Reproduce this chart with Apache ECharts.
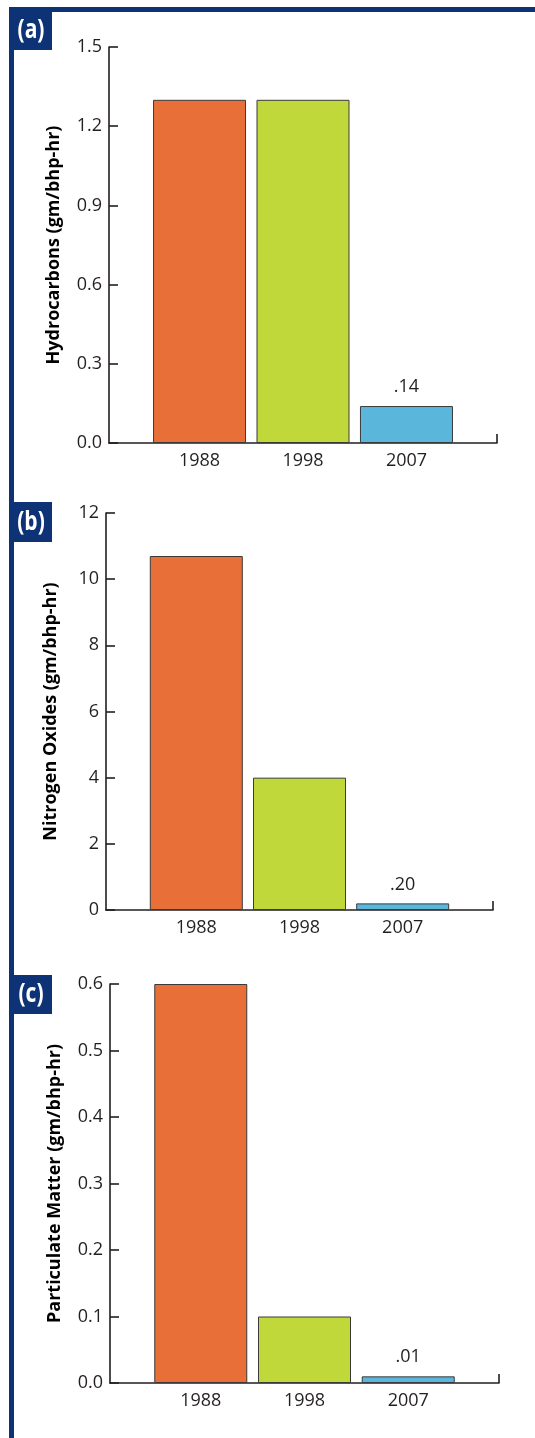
<!DOCTYPE html>
<html>
<head>
<meta charset="utf-8">
<script src="https://cdn.jsdelivr.net/npm/echarts@6/dist/echarts.min.js"></script>
<style>
  html, body { margin: 0; padding: 0; background: #ffffff; }
  #chart { width: 535px; height: 1438px; }
</style>
</head>
<body>
<div id="chart"></div>
<script>
// Model years shown on every panel
const years = ['1988', '1998', '2007'];

// Emission standards, gm/bhp-hr
const hydrocarbons = [1.3, 1.3, 0.14];
const nitrogenOxides = [10.7, 4.0, 0.20];
const particulateMatter = [0.6, 0.1, 0.01];

// Y-axis tick settings per panel
const hcTicks = { min: 0, max: 1.5, interval: 0.3, digits: 1 };
const noxTicks = { min: 0, max: 12, interval: 2, digits: 0 };
const pmTicks = { min: 0, max: 0.6, interval: 0.1, digits: 1 };

const panelTitles = ['(a)', '(b)', '(c)'];
const axisNames = [
  'Hydrocarbons (gm/bhp-hr)',
  'Nitrogen Oxides (gm/bhp-hr)',
  'Particulate Matter (gm/bhp-hr)'
];

const barColors = ['#e86f37', '#c1d83b', '#5bb6dc'];
const navy = '#0d3376';
const ink = '#231f20';
const font = '"Open Sans", "Noto Sans", sans-serif';

const panels = [
  { values: hydrocarbons, ticks: hcTicks, grid: { left: 109, top: 47, width: 388, height: 396 }, box: { y: 7, h: 43 } },
  { values: nitrogenOxides, ticks: noxTicks, grid: { left: 106, top: 513, width: 387, height: 397 }, box: { y: 502, h: 40 } },
  { values: particulateMatter, ticks: pmTicks, grid: { left: 110, top: 984, width: 389, height: 399 }, box: { y: 975, h: 39 } }
];

// Category slots sit at 0, 1, 2 on a value axis padded on both sides
const xMin = -0.875;
const xMax = 2.875;

const grids = [], xAxes = [], yAxes = [], series = [], graphics = [];

panels.forEach((p, i) => {
  grids.push(Object.assign({}, p.grid));

  xAxes.push({
    type: 'value',
    gridIndex: i,
    min: xMin,
    max: xMax,
    splitLine: { show: false },
    axisLine: { show: true, onZero: false, lineStyle: { color: ink, width: 1.6 } },
    axisTick: {
      show: true, inside: true, length: 9,
      customValues: [xMax],
      lineStyle: { color: ink, width: 1.6 }
    },
    axisLabel: {
      customValues: years.map((_, k) => k),
      formatter: v => years[Math.round(v)],
      color: ink, fontFamily: font, fontSize: 18, margin: 9
    }
  });

  yAxes.push({
    type: 'value',
    gridIndex: i,
    min: p.ticks.min,
    max: p.ticks.max,
    interval: p.ticks.interval,
    name: axisNames[i],
    nameLocation: 'middle',
    nameGap: 46,
    nameTextStyle: { color: '#000', fontFamily: font, fontSize: 18, fontWeight: 'bold' },
    splitLine: { show: false },
    axisLine: { show: true, onZero: false, lineStyle: { color: ink, width: 1.6 } },
    axisTick: { show: true, inside: true, length: 9, lineStyle: { color: ink, width: 1.6 } },
    axisLabel: {
      formatter: v => v.toFixed(p.ticks.digits),
      color: ink, fontFamily: font, fontSize: 18, margin: 7
    }
  });

  series.push({
    type: 'bar',
    xAxisIndex: i,
    yAxisIndex: i,
    barWidth: 93,
    data: p.values.map((v, k) => ({
      value: [k, v],
      itemStyle: { color: barColors[k], borderColor: '#3a3a3a', borderWidth: 1 },
      label: {
        show: k === years.length - 1,
        position: 'top',
        distance: 10,
        formatter: () => v.toFixed(2).replace(/^0/, ''),
        color: ink, fontFamily: font, fontSize: 18
      }
    }))
  });

  // Panel tag
  graphics.push({
    type: 'rect',
    shape: { x: 9, y: p.box.y, width: 43, height: p.box.h },
    style: { fill: navy }
  });
  graphics.push({
    type: 'text',
    x: 31, y: p.box.y + p.box.h / 2 + (i === 0 ? 2 : 0),
    scaleX: 0.78,
    style: {
      text: panelTitles[i],
      fill: '#ffffff',
      font: 'bold 27px "Open Sans", "DejaVu Sans", sans-serif',
      align: 'center', verticalAlign: 'middle'
    }
  });
});

// Frame along the top and left edge
graphics.unshift(
  { type: 'rect', shape: { x: 9, y: 7, width: 526, height: 5 }, style: { fill: navy } },
  { type: 'rect', shape: { x: 9, y: 7, width: 5, height: 1431 }, style: { fill: navy } }
);

const chart = echarts.init(document.getElementById('chart'), null, { renderer: 'canvas' });
chart.setOption({
  animation: false,
  backgroundColor: '#ffffff',
  grid: grids,
  xAxis: xAxes,
  yAxis: yAxes,
  series: series,
  graphic: graphics
});
</script>
</body>
</html>
